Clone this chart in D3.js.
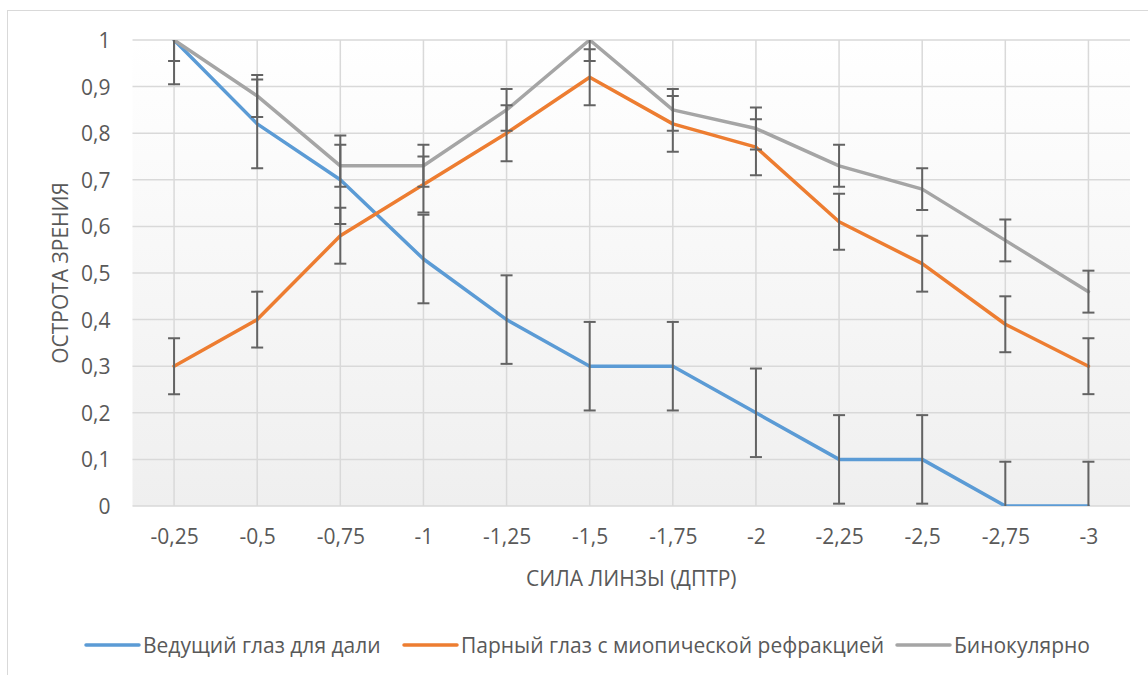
<!DOCTYPE html>
<html><head><meta charset="utf-8">
<script src="https://cdn.jsdelivr.net/npm/d3@7/dist/d3.min.js"></script>
<style>body{margin:0;background:#fff}svg{display:block}text{font-family:"Open Sans",sans-serif;fill:#595959}</style>
</head><body><svg id="c" width="1148" height="675"></svg>
<script>
const categories = ["-0,25","-0,5","-0,75","-1","-1,25","-1,5","-1,75","-2","-2,25","-2,5","-2,75","-3"];
const seriesNames = ["Ведущий глаз для дали","Парный глаз с миопической рефракцией","Бинокулярно"];
const leadingEye = [1,0.82,0.70,0.53,0.40,0.30,0.30,0.20,0.10,0.10,0,0];
const pairedEye = [0.30,0.40,0.58,0.69,0.80,0.92,0.82,0.77,0.61,0.52,0.39,0.30];
const binocular = [1,0.88,0.73,0.73,0.85,1.0,0.85,0.81,0.73,0.68,0.57,0.46];
const leadingErr = [0.095,0.095,0.095,0.095,0.095,0.095,0.095,0.095,0.095,0.095,0.095,0.095];
const pairedErr = [0.06,0.06,0.06,0.06,0.06,0.06,0.06,0.06,0.06,0.06,0.06,0.06];
const binocularErr = [0.045,0.045,0.045,0.045,0.045,0.045,0.045,0.045,0.045,0.045,0.045,0.045];
const yTicks = [0,0.1,0.2,0.3,0.4,0.5,0.6,0.7,0.8,0.9,1];
const colors = ["#5b9bd5","#ed7d31","#a5a5a5"];

const series = [
  {name:seriesNames[0], values:leadingEye, err:leadingErr, color:colors[0]},
  {name:seriesNames[1], values:pairedEye, err:pairedErr, color:colors[1]},
  {name:seriesNames[2], values:binocular, err:binocularErr, color:colors[2]}
];

const FS = 21;
const svg = d3.select("#c");
const L=132.5, R=1130, T=40, B=506;

svg.append("rect").attr("x",7.5).attr("y",10.5).attr("width",1160).attr("height",700)
  .attr("fill","#fff").attr("stroke","#d9d9d9").attr("stroke-width",1);

const defs = svg.append("defs");
const g = defs.append("linearGradient").attr("id","bg").attr("x1",0).attr("y1",0).attr("x2",0).attr("y2",1);
g.append("stop").attr("offset","0%").attr("stop-color","#ffffff");
g.append("stop").attr("offset","100%").attr("stop-color","#efefef");
defs.append("clipPath").attr("id","clip").append("rect").attr("x",L).attr("y",T).attr("width",R-L).attr("height",B-T);

svg.append("rect").attr("x",L).attr("y",T).attr("width",R-L).attr("height",B-T).attr("fill","url(#bg)");

const x = d3.scalePoint().domain(categories).range([L,R]).padding(0.5);
const y = d3.scaleLinear().domain([0,1]).range([B,T]);

// grid
svg.append("g").selectAll("line").data(yTicks).join("line")
  .attr("x1",L).attr("x2",R).attr("y1",d=>y(d)).attr("y2",d=>y(d))
  .attr("stroke","#d9d9d9").attr("stroke-width",1.5);
svg.append("g").selectAll("line").data(categories).join("line")
  .attr("x1",d=>x(d)).attr("x2",d=>x(d)).attr("y1",T).attr("y2",B)
  .attr("stroke","#d9d9d9").attr("stroke-width",1.5);

// axes
const yAxis = svg.append("g").attr("transform",`translate(${L-22},0)`)
  .call(d3.axisLeft(y).tickValues(yTicks).tickSize(0).tickFormat(d=>String(d).replace(".",",")));
yAxis.select(".domain").remove();
yAxis.selectAll("text").attr("font-size",FS).attr("x",0).attr("dy","0.36em").style("fill","#595959");

const xAxis = svg.append("g").attr("transform",`translate(0,${B})`)
  .call(d3.axisBottom(x).tickSize(0));
xAxis.select(".domain").remove();
xAxis.selectAll("text").attr("font-size",FS).attr("y",38).attr("dy",0).style("fill","#595959");

const line = d3.line().x((d,i)=>x(categories[i])).y(d=>y(d));
const plot = svg.append("g").attr("clip-path","url(#clip)");
series.forEach(s=>{
  plot.append("path").datum(s.values).attr("d",line).attr("fill","none")
    .attr("stroke",s.color).attr("stroke-width",3.5).attr("stroke-linejoin","round").attr("stroke-linecap","round");
});
series.forEach(s=>{
  const eg = plot.append("g").attr("stroke","#636363").attr("stroke-width",2);
  s.values.forEach((v,i)=>{
    const cx = x(categories[i]);
    const lo = v - s.err[i], hi = v + s.err[i];
    eg.append("line").attr("x1",cx).attr("x2",cx).attr("y1",y(lo)).attr("y2",y(hi));
    [lo,hi].forEach(e=>{
      if(e>=0 && e<=1) eg.append("line").attr("x1",cx-6).attr("x2",cx+6).attr("y1",y(e)).attr("y2",y(e));
    });
  });
});

// titles
svg.append("text").attr("x",(L+R)/2).attr("y",578).attr("text-anchor","middle").attr("dy","0.36em")
  .attr("font-size",FS).text("СИЛА ЛИНЗЫ (ДПТР)");
svg.append("text").attr("transform",`translate(60,${(T+B)/2}) rotate(-90)`).attr("text-anchor","middle").attr("dy","0.36em")
  .attr("font-size",FS).text("ОСТРОТА ЗРЕНИЯ");

// legend
const legX = [86,404,897];
const leg = svg.append("g");
series.forEach((s,i)=>{
  leg.append("line").attr("x1",legX[i]).attr("x2",legX[i]+53).attr("y1",645).attr("y2",645)
    .attr("stroke",s.color).attr("stroke-width",3.5).attr("stroke-linecap","round");
  leg.append("text").attr("x",legX[i]+57).attr("y",645).attr("dy","0.36em").attr("font-size",FS).text(s.name);
});
</script></body></html>
